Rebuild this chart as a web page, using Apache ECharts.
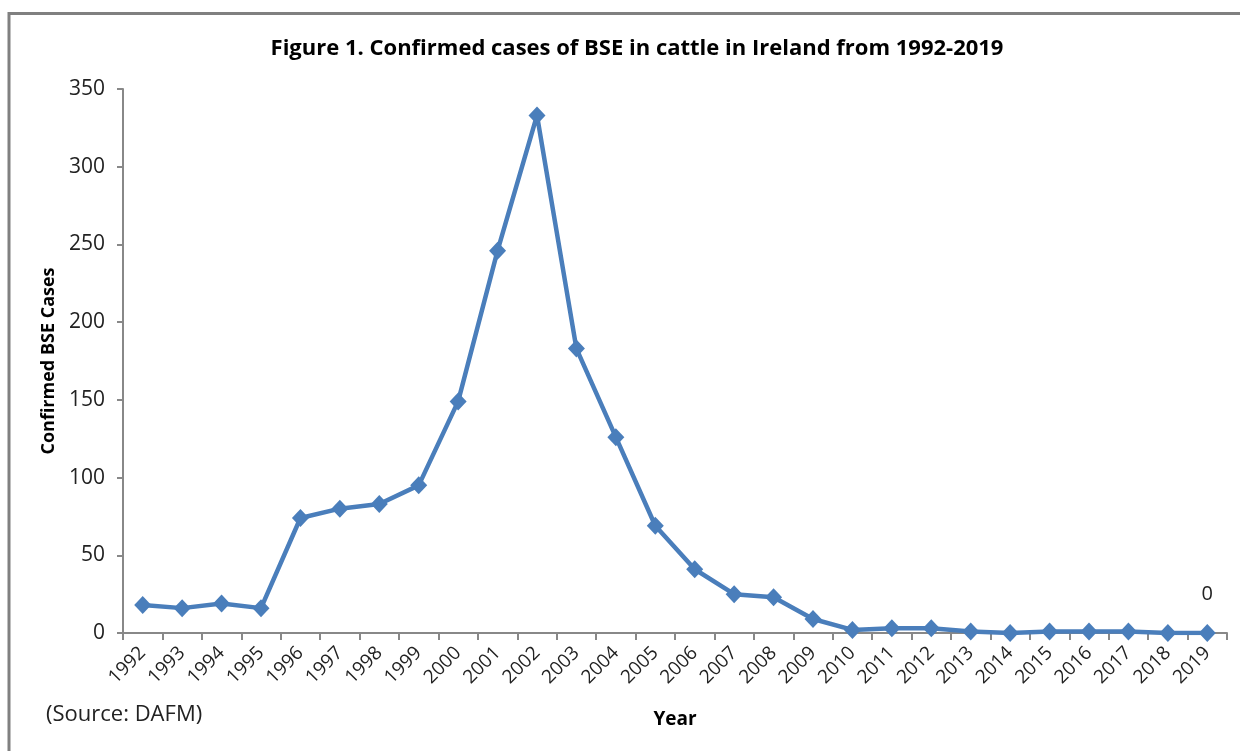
<!DOCTYPE html>
<html><head><meta charset="utf-8">
<script src="https://cdn.jsdelivr.net/npm/echarts@6/dist/echarts.min.js"></script>
<style>html,body{margin:0;padding:0;background:#fff;}#c{width:1240px;height:751px;}</style>
</head><body><div id="c"></div>
<script>
const years = ['1992','1993','1994','1995','1996','1997','1998','1999','2000','2001','2002','2003','2004','2005','2006','2007','2008','2009','2010','2011','2012','2013','2014','2015','2016','2017','2018','2019'];
const cases = [18,16,19,16,74,80,83,95,149,246,333,183,126,69,41,25,23,9,2,3,3,1,0,1,1,1,0,0];
const yTicks = [0,50,100,150,200,250,300,350];
const titleText = 'Figure 1. Confirmed cases of BSE in cattle in Ireland from 1992-2019';
const yName = 'Confirmed BSE Cases';
const xName = 'Year';
const sourceText = '(Source: DAFM)';

const chart = echarts.init(document.getElementById('c'), null, {renderer:'canvas'});
const lastIdx = cases.length - 1;
chart.setOption({
  animation:false,
  backgroundColor:'#fff',
  title:{text:titleText,left:632,top:33,textAlign:'center',
    textStyle:{fontFamily:'Open Sans',fontWeight:'bold',fontSize:22,color:'#000'}},
  graphic:[
    {type:'polyline',shape:{points:[[9,760],[9,13.5],[1250,13.5]]},style:{stroke:'#808080',lineWidth:3,fill:null}},
    {type:'text',left:46,top:704,style:{text:sourceText,font:'22px "Open Sans"',fill:'#222'}}
  ],
  grid:{left:123,right:13,top:89,bottom:118,containLabel:false},
  xAxis:{type:'category',data:years,boundaryGap:true,
    name:xName,nameLocation:'middle',nameGap:77,
    nameTextStyle:{fontFamily:'Open Sans',fontWeight:'bold',fontSize:19,color:'#000'},
    axisLine:{lineStyle:{color:'#888',width:2}},
    axisTick:{show:true,alignWithLabel:false,length:7,lineStyle:{color:'#888',width:2}},
    axisLabel:{rotate:45,fontFamily:'Open Sans',fontSize:19,color:'#222',margin:17,interval:0},
    splitLine:{show:false}},
  yAxis:{type:'value',min:0,max:350,interval:50,
    name:yName,nameLocation:'middle',nameGap:64,nameRotate:90,
    nameTextStyle:{fontFamily:'Open Sans',fontWeight:'bold',fontSize:18,color:'#000'},
    axisLine:{show:true,lineStyle:{color:'#888',width:2}},
    axisTick:{show:true,length:6,lineStyle:{color:'#888',width:2}},
    axisLabel:{fontFamily:'Open Sans',fontSize:21,color:'#222',margin:18,
      formatter:v=>yTicks.includes(v)?String(v):''},
    splitLine:{show:false}},
  series:[{type:'line',data:cases.map((v,i)=>i===lastIdx?{value:v,label:{show:true}}:v),
    symbol:'diamond',symbolSize:[17,18],
    lineStyle:{color:'#4a7ebb',width:4.5},
    itemStyle:{color:'#4a7ebb'},
    label:{show:false,position:'top',distance:20,fontFamily:'Open Sans',fontSize:20,color:'#222'}}]
});
</script></body></html>
